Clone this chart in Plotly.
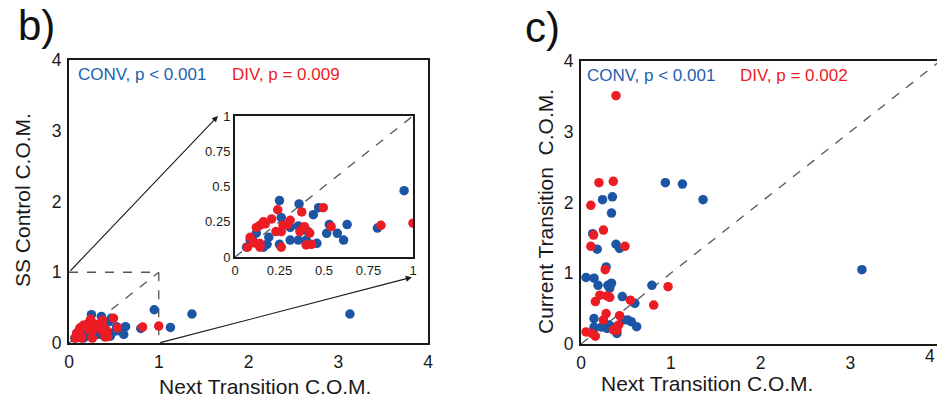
import plotly.graph_objects as go

# ---------------- data ----------------
# panel b: SS Control C.O.M. vs Next Transition C.O.M.
b_conv_x = [0.95, 0.25, 0.36, 0.47, 0.44, 0.26, 0.63, 0.53, 0.356, 0.31, 0.41, 0.515, 0.575, 0.61, 0.80,
            0.31, 0.356, 0.25, 0.46, 0.19, 0.12, 0.085, 0.16, 0.065, 0.18, 0.10, 0.40, 1.13, 1.37, 3.13]
b_conv_y = [0.47, 0.40, 0.376, 0.35, 0.30, 0.28, 0.23, 0.23, 0.22, 0.21, 0.18, 0.168, 0.168, 0.12, 0.205,
            0.12, 0.12, 0.09, 0.097, 0.14, 0.17, 0.12, 0.07, 0.07, 0.09, 0.12, 0.12, 0.22, 0.41, 0.41]
b_div_x = [1.0, 0.82, 0.496, 0.375, 0.24, 0.206, 0.17, 0.14, 0.12, 0.27, 0.295, 0.26, 0.39, 0.42, 0.54,
           0.365, 0.40, 0.43, 0.26, 0.14, 0.07, 0.11, 0.14, 0.085, 0.31, 0.23, 0.16]
b_div_y = [0.24, 0.225, 0.35, 0.32, 0.335, 0.27, 0.235, 0.225, 0.21, 0.225, 0.23, 0.18, 0.215, 0.17, 0.215,
           0.18, 0.085, 0.09, 0.07, 0.07, 0.07, 0.10, 0.095, 0.14, 0.26, 0.18, 0.25]

# panel c: Current Transition C.O.M. vs Next Transition C.O.M.
c_conv_x = [0.94, 1.13, 1.36, 0.24, 0.35, 0.34, 0.13, 0.18, 0.39, 0.43, 0.28, 0.056, 0.145, 0.19, 0.30,
            0.34, 0.32, 0.79, 0.46, 0.60, 0.145, 0.145, 0.29, 0.31, 0.47, 0.52, 0.56, 0.62, 0.40, 0.35, 0.23, 3.13]
c_conv_y = [2.28, 2.26, 2.04, 2.04, 2.08, 1.85, 1.56, 1.34, 1.41, 1.35, 1.09, 0.94, 0.93, 0.83, 0.83,
            0.86, 0.79, 0.83, 0.67, 0.575, 0.36, 0.24, 0.22, 0.27, 0.34, 0.34, 0.315, 0.245, 0.15, 0.24, 0.24, 1.05]
c_div_x = [0.39, 0.20, 0.36, 0.11, 0.25, 0.14, 0.11, 0.49, 0.27, 0.97, 0.81, 0.55, 0.16, 0.21, 0.29,
           0.32, 0.28, 0.43, 0.25, 0.056, 0.12, 0.16, 0.36, 0.40, 0.42]
c_div_y = [3.51, 2.28, 2.30, 1.96, 1.61, 1.54, 1.38, 1.38, 1.05, 0.81, 0.55, 0.62, 0.60, 0.69, 0.68,
           0.66, 0.43, 0.40, 0.34, 0.17, 0.15, 0.11, 0.20, 0.19, 0.27]

main_ticks = [0, 1, 2, 3, 4]
inset_ticks = [0, 0.25, 0.5, 0.75, 1]
inset_labels = ["0", "0.25", "0.5", "0.75", "1"]

# ---------------- style ----------------
W, H = 937, 400
BLUE = "#1b55a3"
RED = "#ec1c24"
TXT_BLUE = "#2260b0"
TXT_RED = "#ee1c24"
FONT = "Liberation Sans, Arial, sans-serif"
INK = "#1a1a1a"


def px(xp):
    return xp / W


def py(yp):
    return 1 - yp / H


fig = go.Figure()
msize = 9.5


def add_pair(xa, ya, cx, cy, dx, dy):
    fig.add_trace(go.Scatter(x=cx, y=cy, mode="markers", xaxis=xa, yaxis=ya,
                             marker=dict(color=BLUE, size=msize, line=dict(width=0)),
                             showlegend=False, hoverinfo="skip", cliponaxis=True))
    fig.add_trace(go.Scatter(x=dx, y=dy, mode="markers", xaxis=xa, yaxis=ya,
                             marker=dict(color=RED, size=msize, line=dict(width=0)),
                             showlegend=False, hoverinfo="skip", cliponaxis=True))


add_pair("x", "y", b_conv_x, b_conv_y, b_div_x, b_div_y)
add_pair("x2", "y2", b_conv_x, b_conv_y, b_div_x, b_div_y)
add_pair("x3", "y3", c_conv_x, c_conv_y, c_div_x, c_div_y)

axis_common = dict(showgrid=False, zeroline=False, showline=True, linecolor=INK,
                   ticks="", automargin=False, fixedrange=True)

# main b
bx0, bx1, by0, by1 = 69, 428, 343, 60
# inset
ix0, ix1, iy0, iy1 = 235, 413, 257, 116
# c
cx0, cy0, cy1 = 581, 344, 61
c_unit = (428 - 69) / 4.0
c_xmax = (W - cx0) / c_unit

TICK = 17.5
fig.update_layout(
    width=W, height=H, margin=dict(l=0, r=0, t=0, b=0),
    paper_bgcolor="white", plot_bgcolor="white",
    font=dict(family=FONT, color=INK),
    xaxis=dict(domain=[px(bx0), px(bx1)], range=[0, 4], anchor="y", mirror=True, linewidth=2,
               tickvals=main_ticks, tickfont=dict(size=TICK), ticklabelstandoff=2, **axis_common),
    yaxis=dict(domain=[py(by0), py(by1)], range=[0, 4], anchor="x", mirror=True, linewidth=2,
               tickvals=main_ticks, tickfont=dict(size=TICK), ticklabelstandoff=2, **axis_common),
    xaxis2=dict(domain=[px(ix0), px(ix1)], range=[0, 1], anchor="y2", mirror=True, linewidth=2,
                tickvals=inset_ticks, ticktext=inset_labels, tickfont=dict(size=13), **axis_common),
    yaxis2=dict(domain=[py(iy0), py(iy1)], range=[0, 1], anchor="x2", mirror=True, linewidth=2,
                tickvals=inset_ticks, ticktext=inset_labels, tickfont=dict(size=13),
                ticklabelstandoff=0, **axis_common),
    xaxis3=dict(domain=[px(cx0), 1.0], range=[0, c_xmax], anchor="y3", mirror=True, linewidth=2,
                tickvals=[0, 1, 2, 3], tickfont=dict(size=TICK), ticklabelstandoff=2, **axis_common),
    yaxis3=dict(domain=[py(cy0), py(cy1)], range=[0, 4], anchor="x3", mirror=False, linewidth=2,
                tickvals=main_ticks, tickfont=dict(size=TICK), ticklabelstandoff=2, **axis_common),
)

dash = dict(color="#555555", width=1.3, dash="dash")
shapes = [
    dict(type="line", xref="x", yref="y", x0=0, y0=1, x1=1, y1=1, line=dash, layer="below"),
    dict(type="line", xref="x", yref="y", x0=1, y0=1, x1=1, y1=0, line=dash, layer="below"),
    dict(type="line", xref="x", yref="y", x0=0, y0=0, x1=1, y1=1, line=dash, layer="below"),
    dict(type="line", xref="x2", yref="y2", x0=0, y0=0, x1=1, y1=1, line=dash, layer="below"),
    dict(type="line", xref="x3", yref="y3", x0=0, y0=0, x1=c_xmax, y1=c_xmax, line=dash, layer="below"),
]
fig.update_layout(shapes=shapes)

ann = []
# arrows from the zoom box to the inset
ann.append(dict(xref="x", yref="y", axref="x", ayref="y", x=1.66, y=3.21, ax=0, ay=1,
                text="", showarrow=True, arrowhead=2, arrowsize=1.1, arrowwidth=1.1, arrowcolor=INK))
ann.append(dict(xref="x", yref="y", axref="x", ayref="y", x=3.82, y=0.93, ax=1, ay=0,
                text="", showarrow=True, arrowhead=2, arrowsize=1.1, arrowwidth=1.1, arrowcolor=INK))

# panel letters
ann.append(dict(xref="paper", yref="paper", x=px(16), y=py(25), xanchor="left", yanchor="middle",
                text="b)", showarrow=False, font=dict(size=42, color="#111")))
ann.append(dict(xref="paper", yref="paper", x=px(523), y=py(27), xanchor="left", yanchor="middle",
                text="c)", showarrow=False, font=dict(size=42, color="#111")))

# stats text
stat_font = 17
ann.append(dict(xref="paper", yref="paper", x=px(76), y=py(74), xanchor="left", yanchor="middle",
                text="CONV, p &lt; 0.001", showarrow=False, font=dict(size=stat_font, color=TXT_BLUE)))
ann.append(dict(xref="paper", yref="paper", x=px(230), y=py(74), xanchor="left", yanchor="middle",
                text="DIV, p = 0.009", showarrow=False, font=dict(size=stat_font, color=TXT_RED)))
ann.append(dict(xref="paper", yref="paper", x=px(585), y=py(75), xanchor="left", yanchor="middle",
                text="CONV, p &lt; 0.001", showarrow=False, font=dict(size=stat_font, color=TXT_BLUE)))
ann.append(dict(xref="paper", yref="paper", x=px(738), y=py(75), xanchor="left", yanchor="middle",
                text="DIV, p = 0.002", showarrow=False, font=dict(size=stat_font, color=TXT_RED)))

# axis titles
title_font = dict(size=21, color=INK)
ann.append(dict(xref="paper", yref="paper", x=px(265), y=py(386), xanchor="center", yanchor="middle",
                text="Next Transition C.O.M.", showarrow=False, font=title_font))
ann.append(dict(xref="paper", yref="paper", x=px(22), y=py(200), xanchor="center", yanchor="middle",
                text="SS Control C.O.M.", textangle=-90, showarrow=False, font=title_font))
ann.append(dict(xref="paper", yref="paper", x=px(707), y=py(383), xanchor="center", yanchor="middle",
                text="Next Transition C.O.M.", showarrow=False, font=title_font))
ann.append(dict(xref="paper", yref="paper", x=px(545), y=py(212), xanchor="center", yanchor="middle",
                text="Current Transition&nbsp; C.O.M.", textangle=-90, showarrow=False, font=title_font))
# "4" tick label at the right edge of panel c (axis runs past the page edge)
ann.append(dict(xref="paper", yref="paper", x=1.0, y=py(356), xanchor="right", yanchor="middle",
                text="4", showarrow=False, font=dict(size=TICK, color=INK)))

fig.update_layout(annotations=ann)

fig.write_html("out.html", config={"displayModeBar": False})
